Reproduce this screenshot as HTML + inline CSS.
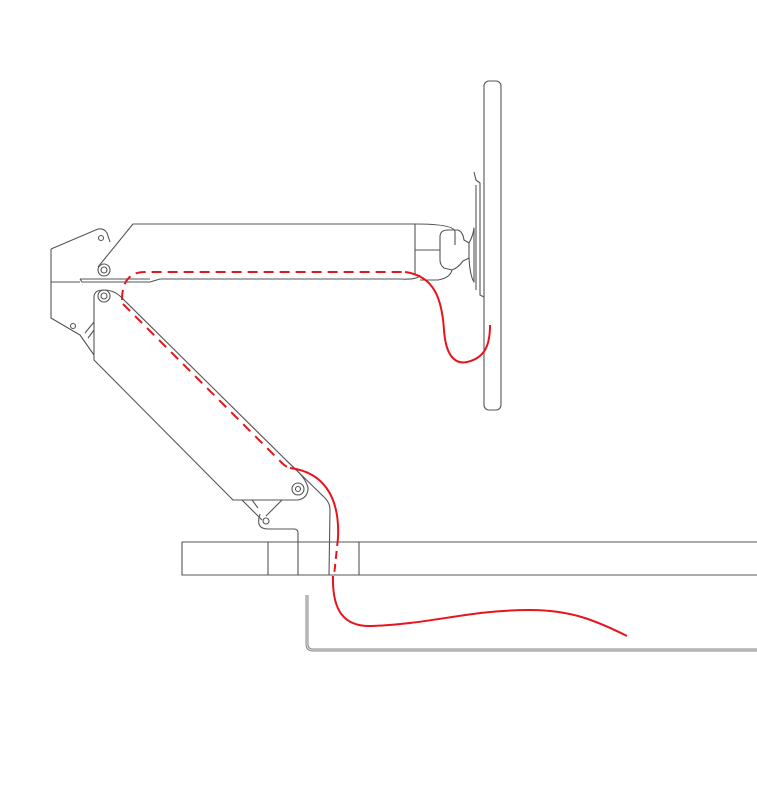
<!DOCTYPE html>
<html><head><meta charset="utf-8"><style>html,body{margin:0;padding:0;background:#fff}svg{display:block}</style></head>
<body>
<svg width="757" height="800" viewBox="0 0 757 800" xmlns="http://www.w3.org/2000/svg">
<g fill="none" stroke="#555" stroke-width="1.1" stroke-linejoin="round">
<path d="M51,249 L98,229 Q104,228 107,233 L110,242"/>
<path d="M51,249 L51,318 L80,335 L94,355"/>
<line x1="51" y1="282" x2="80" y2="282"/>
<circle cx="101" cy="238" r="2.5"/>
<circle cx="73" cy="326" r="2.5"/>
<path d="M85,333 L94,322 M88,338 L94,330"/>
<path d="M98,267 L133,224 L415,224 Q455,224 455,232 L455,245"/>
<path d="M80,279 L82,282 L150,282 L160,279 L400,279 Q418,280 420,275"/>
<path d="M80,279 L150,279"/>
<line x1="415" y1="224" x2="415" y2="275"/>
<line x1="415" y1="250" x2="440" y2="250"/>
<path d="M440,237 Q440,230 448,230 L458,230 Q463,232 464,240 L469,243 L469,258 L463,261 Q458,268 452,270 L444,268 Q440,265 440,260 Z"/>
<path d="M452,270 Q450,278 438,280 L420,280"/>
<path d="M469,243 Q473,236 474,228 L474,282 Q470,276 469,258"/>
<path d="M474,172 L476,180 L480,183 L480,295 L484,297"/>
<path d="M476,185 L476,290"/>
<rect x="484" y="81" width="17" height="329" rx="5"/>
<circle cx="104" cy="270" r="6"/><circle cx="104" cy="270" r="3"/>
<circle cx="104" cy="296" r="6"/><circle cx="104" cy="296" r="3"/>
<circle cx="298" cy="489" r="6"/><circle cx="298" cy="489" r="2.5"/>
<path d="M94,297 L94,360 L233,500 L298,500 Q308,498 308,488 Q306,478 292,466 L123,299 Q115,290 104,290 Q94,290 94,297"/>
<path d="M286,460 L325,498 Q330,503 330,510 L329,575"/>
<path d="M242,500 L262,520 M252,500 L258,508 M282,500 L266,516"/>
<circle cx="266" cy="521" r="3"/>
<path d="M260,514 Q255,529 268,529 L294,529 Q298,529 298,533 L298,575"/>
<rect x="182" y="542" width="580" height="33"/>
<line x1="268" y1="542" x2="268" y2="575"/>
<line x1="359" y1="542" x2="359" y2="575"/>
</g>
<path d="M307,595 L307,644 Q307,650 313,650 L757,650" fill="none" stroke="#888" stroke-width="3"/>
<path d="M307,595 L307,644 Q307,650 313,650 L757,650" fill="none" stroke="#e6e6e6" stroke-width="1"/>
<g fill="none" stroke="#e8141c" stroke-width="2">
<path d="M122,300 Q122,272 145,272 L405,272" stroke-dasharray="10,6"/>
<path d="M405,272 C435,276 442,300 444,330 C446,360 458,364 467,362 C485,358 490,345 490,325"/>
<path d="M123,304 L282,463 Q286,467 290,468" stroke-dasharray="10,7"/>
<path d="M290,468 C322,472 340,495 338,538"/>
<path d="M338,538 L334,576" stroke-dasharray="8,5"/>
<path d="M333,576 C332,612 345,627 372,626 C430,624 470,610 530,610 C570,610 595,620 627,636"/>
</g>
</svg>
</body></html>
